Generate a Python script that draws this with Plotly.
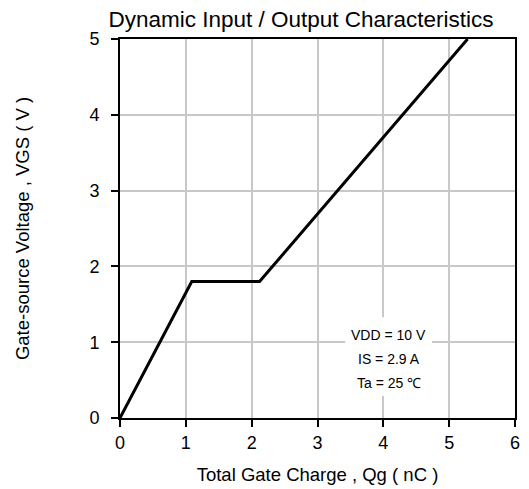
import plotly.graph_objects as go

qg = [0, 1.09, 2.12, 3.30, 4.29, 5.28]
vgs = [0, 1.8, 1.8, 3.0, 4.0, 5.0]
x_ticks = [0, 1, 2, 3, 4, 5, 6]
y_ticks = [0, 1, 2, 3, 4, 5]
notes = ["VDD = 10 V", "IS = 2.9 A", "Ta = 25 \u2103"]

FONT = "Liberation Sans, Arial, sans-serif"

fig = go.Figure()
fig.add_trace(go.Scatter(x=qg, y=vgs, mode="lines",
                         line=dict(color="black", width=3), showlegend=False))

fig.add_shape(type="rect", xref="x", yref="y", x0=3.42, x1=4.74, y0=0.29, y1=1.33,
              fillcolor="white", line=dict(width=0), layer="between")
for i, t in enumerate(notes):
    fig.add_annotation(x=4.08, y=1.10 - i * 0.32, xref="x", yref="y", text=t,
                       showarrow=False, font=dict(family=FONT, size=14, color="black"))

axis_common = dict(showgrid=True, gridcolor="#c8c8c8", gridwidth=2,
                   showline=True, linecolor="black", linewidth=2, mirror=True,
                   ticks="outside", ticklen=7, tickwidth=1.5, tickcolor="black",
                   zeroline=False, automargin=False,
                   tickfont=dict(family=FONT, size=18, color="black"))

fig.update_xaxes(range=[0, 6], tickvals=x_ticks, ticklabelstandoff=0,
                 title=dict(text="Total Gate Charge , Qg ( nC )",
                            font=dict(family=FONT, size=18.5, color="black"), standoff=16),
                 **axis_common)
fig.update_yaxes(range=[0, 5], tickvals=y_ticks, ticklabelstandoff=8,
                 title=dict(text="Gate-source Voltage , VGS ( V )",
                            font=dict(family=FONT, size=18.5, color="black"), standoff=55),
                 **axis_common)

fig.update_layout(
    width=529, height=489,
    margin=dict(l=120, r=14, t=39, b=71),
    plot_bgcolor="white", paper_bgcolor="white",
    title=dict(text="Dynamic Input / Output Characteristics", x=301 / 529, xanchor="center",
               xref="container", y=1 - 19 / 489, yanchor="middle", yref="container",
               font=dict(family=FONT, size=22.5, color="black")),
)

fig.write_html("out.html", config={"displayModeBar": False},
               post_script="document.body.style.margin='0';document.body.style.padding='0';")
